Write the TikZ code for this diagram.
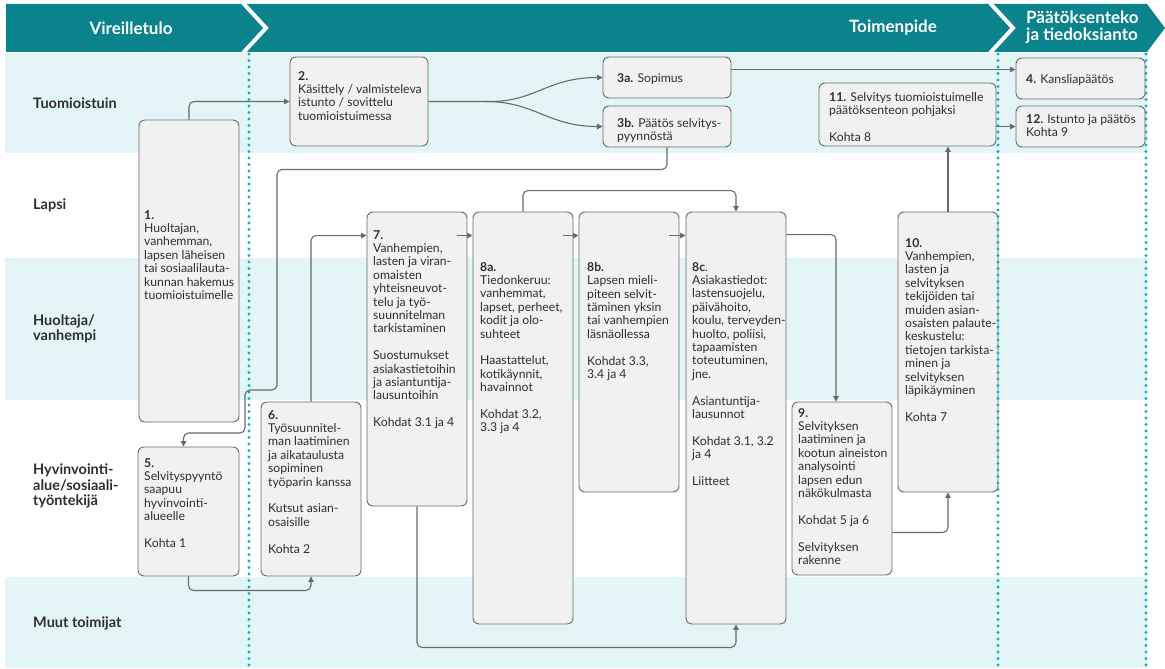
\documentclass[tikz,border=0pt]{standalone}
\usepackage{fontspec}
\setmainfont{Lato}
\usetikzlibrary{arrows.meta,calc}
\definecolor{headteal}{HTML}{0A838C}
\definecolor{lanefill}{HTML}{E3F5F6}
\definecolor{dotteal}{HTML}{0FB3B6}
\definecolor{boxfill}{HTML}{F1F1F1}
\definecolor{boxline}{HTML}{6A6A6A}
\definecolor{textgray}{HTML}{2E2E2E}
\tikzset{
  box/.style={draw=boxline, fill=boxfill, rounded corners=6pt, line width=0.9pt, inner sep=0pt},
  txt/.style={anchor=north west, align=left, inner sep=0pt, text=textgray, font=\fontsize{12.2}{13.4}\selectfont},
  lane/.style={anchor=west, align=left, inner sep=0pt, text=textgray, font=\fontsize{14.5}{15.5}\selectfont\bfseries},
  head/.style={inner sep=0pt, text=white, font=\fontsize{17}{16.5}\selectfont\bfseries},
  arr/.style={draw=boxline, line width=1.1pt, rounded corners=5pt, -{Triangle[length=5.5pt,width=5.5pt]}},
  sep/.style={draw=dotteal, line width=3.4pt, line cap=round, dash pattern=on 0pt off 6.5pt}
}
\begin{document}
\begin{tikzpicture}[x=1pt, y=-1pt]
\useasboundingbox (0,0) rectangle (1165,669);
\foreach \ya/\yb in {53/153, 258/400, 577/668}
  \fill[lanefill] (5,\ya) rectangle (1147,\yb);
\fill[headteal] (6,4) -- (1147,4) -- (1165,28) -- (1147,52) -- (6,52) -- cycle;
\draw[white, line width=4pt] (243,3) -- (266,28) -- (243,53);
\draw[white, line width=4pt] (990,3) -- (1013,28) -- (990,53);
\node[head] (h1) at (131,28) {Vireilletulo};
\node[head] (h2) at (893,28) {Toimenpide};
\node[head, anchor=west, align=left] (h3) at (1026,27) {Päätöksenteko\\ja tiedoksianto};

\node[lane] (l1) at (33,103) {Tuomioistuin};
\node[lane] (l2) at (33,205) {Lapsi};
\node[lane] (l3) at (33,329) {Huoltaja/\\vanhempi};
\node[lane] (l4) at (33,486) {Hyvinvointi-\\alue/sosiaali-\\työntekijä};
\node[lane] (l5) at (33,623) {Muut toimijat};

\foreach \n/\x/\y/\w/\h in {1/189/271/100/302, 2/359/101.5/138/89, 3a/667/77.5/128/41,
  3b/667/126.5/128/41, 4/1080.5/78.5/129/41, 12/1080.5/126.5/129/41, 11/907.5/114.5/177/63,
  5/188.5/511.5/101/129, 6/311/489/100/174, 7/417/359/100/294, 8a/523/418/100/412,
  8b/629/352/100/280, 8c/736/418/100/412, 9/842/488.5/100/173, 10/948/352/100/280}
  \node[box, minimum width=\w, minimum height=\h] (b\n) at (\x,\y) {};

\node[txt] (t1) at (144,210) {\textbf{1.}\\Huoltajan,\\vanhemman,\\lapsen läheisen\\tai sosiaalilauta-\\kunnan hakemus\\tuomioistuimelle};
\node[txt] (t2) at (298,71) {\textbf{2.}\\Käsittely / valmisteleva\\istunto / sovittelu\\tuomioistuimessa};
\node[txt] (t3a) at (617,73) {\textbf{3a.} Sopimus};
\node[txt] (t3b) at (617,118) {\textbf{3b.} Päätös selvitys-\\pyynnöstä};
\node[txt] (t4) at (1026,74) {\textbf{4.} Kansliapäätös};
\node[txt] (t12) at (1026,114) {\textbf{12.} Istunto ja päätös\\Kohta 9};
\node[txt] (t11) at (829,92) {\textbf{11.} Selvitys tuomioistuimelle\\päätöksenteon pohjaksi\\[13.4pt]Kohta 8};
\node[txt] (t5) at (144,458) {\textbf{5.}\\Selvityspyyntö\\saapuu\\hyvinvointi-\\alueelle\\[13.4pt]Kohta 1};
\node[txt] (t6) at (268,410) {\textbf{6.}\\Työsuunnitel-\\man laatiminen\\ja aikataulusta\\sopiminen\\työparin kanssa\\[13.4pt]Kutsut asian-\\osaisille\\[13.4pt]Kohta 2};
\node[txt] (t7) at (373,230) {\textbf{7.}\\Vanhempien,\\lasten ja viran-\\omaisten\\yhteisneuvot-\\telu ja työ-\\suunnitelman\\tarkistaminen\\[13.4pt]Suostumukset\\asiakastietoihin\\ja asiantuntija-\\lausuntoihin\\[13.4pt]Kohdat 3.1 ja 4};
\node[txt] (t8a) at (480,262) {\textbf{8a.}\\Tiedonkeruu:\\vanhemmat,\\lapset, perheet,\\kodit ja olo-\\suhteet\\[13.4pt]Haastattelut,\\kotikäynnit,\\havainnot\\[13.4pt]Kohdat 3.2,\\3.3 ja 4};
\node[txt] (t8b) at (587,262) {\textbf{8b.}\\Lapsen mieli-\\piteen selvit-\\täminen yksin\\tai vanhempien\\läsnäollessa\\[13.4pt]Kohdat 3.3,\\3.4 ja 4};
\node[txt] (t8c) at (692,262) {\textbf{8c}.\\Asiakastiedot:\\lastensuojelu,\\päivähoito,\\koulu, terveyden-\\huolto, poliisi,\\tapaamisten\\toteutuminen,\\jne.\\[13.4pt]Asiantuntija-\\lausunnot\\[13.4pt]Kohdat 3.1, 3.2\\ja 4\\[13.4pt]Liitteet};
\node[txt] (t9) at (798,408) {\textbf{9.}\\Selvityksen\\laatiminen ja\\kootun aineiston\\analysointi\\lapsen edun\\näkökulmasta\\[13.4pt]Kohdat 5 ja 6\\[13.4pt]Selvityksen\\rakenne};
\node[txt] (t10) at (905,238) {\textbf{10.}\\Vanhempien,\\lasten ja\\selvityksen\\tekijöiden tai\\muiden asian-\\osaisten palaute-\\keskustelu:\\tietojen tarkista-\\minen ja\\selvityksen\\läpikäyminen\\[13.4pt]Kohta 7};

\foreach \x in {249, 998, 1146}
  \draw[sep] (\x,54) -- (\x,669);

\coordinate (fork) at ([xshift=57pt]b2.east);
\coordinate (c3a) at ($(b3a.east)+(0,-8)$);
\coordinate (c7) at ($(b7.north west)+(0,24)$);
\coordinate (c8c) at ($(b8c.north east)+(0,23)$);
\coordinate (c9) at ($(b9.south east)+(0,-43)$);
\draw[arr] (b1.north) |- (b2.west);
\draw[arr] (b2.east) -- (fork) .. controls ($(fork)+(50,0)$) and ($(b3a.west)+(-55,0)$) .. (b3a.west);
\draw[arr] (fork) .. controls ($(fork)+(50,0)$) and ($(b3b.west)+(-55,0)$) .. (b3b.west);
\draw[arr] (c3a) -- (c3a -| b4.west);
\draw[arr] (b3b.south) -- ++(0,22) -| (277,390) -| (245,433) -| ([xshift=-5pt]b5.north);
\draw[arr] (b5.south) -- ++(0,14) -| (b6.south);
\draw[arr] (b6.north) |- (c7);
\foreach \a/\b in {b7/b8a, b8a/b8b, b8b/b8c}
  \draw[arr] ($(\a.north east)+(-10,24)$) -- ($(\b.north west)+(0,24)$);
\draw[arr] (b8a.north) -- ++(0,-21) -| (b8c.north);
\draw[arr] (b7.south) -- ++(0,141) -| (b8c.south);
\draw[arr] (c8c) -| ([xshift=-6pt]b9.north);
\draw[arr] (c9) -| (b10.south);
\draw[arr] (b10.north) -- (b10.north |- b11.south);
\draw[arr] (b11.east |- b12.west) -- (b12.west);
\end{tikzpicture}
\end{document}
